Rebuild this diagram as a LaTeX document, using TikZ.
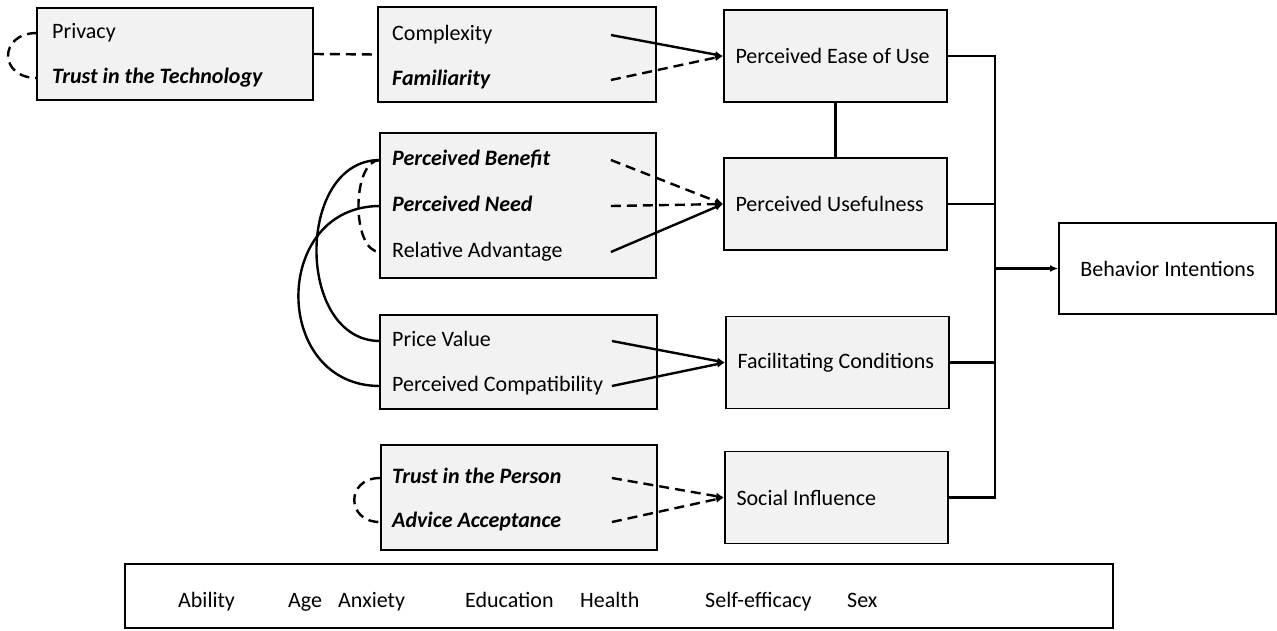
\documentclass[tikz,border=0pt]{standalone}
\usepackage{fontspec}
\setmainfont{Carlito}
\usetikzlibrary{arrows.meta,calc}
\definecolor{boxgray}{HTML}{F2F2F2}
\tikzset{
	factor/.style={draw, line width=1.8pt, fill=boxgray, inner sep=0pt},
	construct/.style={draw, line width=1.8pt, fill=boxgray, minimum width=223pt, minimum height=92pt,
		text width=200pt, inner xsep=11.5pt, align=flush left},
	item/.style={anchor=west, inner xsep=12pt, inner ysep=0pt, text height=16pt, text depth=5pt},
	conn/.style={line width=2.4pt},
	dashline/.style={conn, dash pattern=on 10pt off 6pt},
}
\begin{document}
\begin{tikzpicture}[x=1pt, y=-1pt, font=\fontsize{22}{26}\selectfont, >={Latex[length=8pt,width=7pt]}]
			\useasboundingbox (0,0) rectangle (1277,630);

			\node [factor, minimum width=276pt, minimum height=92pt] (trustbox) at (175,54) {};
			\node [item, inner xsep=15pt] (privacy) at (37,33) {Privacy};
			\node [item, inner xsep=15pt] (trusttech) at (37,78) {\textbf{\textit{Trust in the Technology}}};

			\node [factor, minimum width=278pt, minimum height=95pt] (techbox) at (517,54.5) {};
			\node [item] (complexity) at (380,35) {Complexity};
			\node [item] (familiar) at (380,80) {\textbf{\textit{Familiarity}}};

			\node [factor, minimum width=276pt, minimum height=145pt] (benefitbox) at (518,205.5) {};
			\node [item] (benefit) at (380,160) {\textbf{\textit{Perceived Benefit}}};
			\node [item] (need) at (380,206) {\textbf{\textit{Perceived Need}}};
			\node [item] (advantage) at (380,252) {Relative Advantage};

			\node [factor, minimum width=277pt, minimum height=94pt] (pricebox) at (518.5,362) {};
			\node [item] (price) at (380,341) {Price Value};
			\node [item] (compat) at (380,386) {Perceived Compatibility};

			\node [factor, minimum width=276pt, minimum height=105pt] (personbox) at (519,497.5) {};
			\node [item] (trustperson) at (380,478) {\textbf{\textit{Trust in the Person}}};
			\node [item] (advice) at (380,522) {\textbf{\textit{Advice Acceptance}}};

			\node [construct] (peou) at (835.5,56) {Perceived Ease of Use};
			\node [construct] (pu) at (835.5,204) {Perceived Usefulness};
			\node [construct] (fc) at (837.5,362.5) {Facilitating Conditions};
			\node [construct] (si) at (836.5,497.5) {Social Influence};
			\node [draw, line width=1.8pt, minimum width=217pt, minimum height=91pt] (bi) at (1167.5,268.5) {Behavior Intentions};

			\node [draw, line width=2.8pt, minimum width=988pt, minimum height=64pt] (moderators) at (619,596) {};
			\foreach \nm/\lbl/\xx in {ability/Ability/178, age/Age/288, anxiety/Anxiety/338,
				education/Education/465, health/Health/580, efficacy/Self-efficacy/705, sex/Sex/847} {
				\node [anchor=base west, inner sep=0pt] (\nm) at (\xx,607) {\lbl};
			}

			\draw [dashline] (trustbox.east) -- (techbox.west);
			\draw [conn, ->] ($(techbox.east |- complexity)+(-46,0)$) -- (peou.west);
			\draw [dashline, ->] ($(techbox.east |- familiar)+(-46,0)$) -- (peou.west);
			\draw [dashline, ->] ($(benefitbox.east |- benefit)+(-46,0)$) -- (pu.west);
			\draw [dashline, ->] ($(benefitbox.east |- need)+(-46,0)$) -- (pu.west);
			\draw [conn, ->] ($(benefitbox.east |- advantage)+(-46,0)$) -- (pu.west);
			\draw [conn, ->] ($(pricebox.east |- price)+(-46,0)$) -- (fc.west);
			\draw [conn, ->] ($(pricebox.east |- compat)+(-46,0)$) -- (fc.west);
			\draw [dashline, ->] ($(personbox.east |- trustperson)+(-46,0)$) -- (si.west);
			\draw [dashline, ->] ($(personbox.east |- advice)+(-46,0)$) -- (si.west);
			\draw [conn] (peou) -- (pu);

			\coordinate (bustop) at (995,56);
			\coordinate (busbot) at (995,497.5);
			\draw [conn] (peou.east) -- (bustop) -- (busbot) -- (si.east);
			\draw [conn] (pu.east) -- (pu.east -| bustop);
			\draw [conn] (fc.east) -- (fc.east -| bustop);
			\draw [conn, ->] (bi.west -| bustop) -- (bi.west);

			\draw [dashline] (privacy.west) to [out=180, in=180, looseness=2.2] (trusttech.west);
			\draw [dashline] (trustperson.west) to [out=180, in=180, looseness=2] (advice.west);
			\draw [dashline] (benefit.west) to [out=180, in=180, looseness=0.8] (advantage.west);
			\draw [conn] (benefit.west) to [out=180, in=180, looseness=1.2] (price.west);
			\draw [conn] (need.west) to [out=180, in=180, looseness=1.55] (compat.west);
\end{tikzpicture}
\end{document}
